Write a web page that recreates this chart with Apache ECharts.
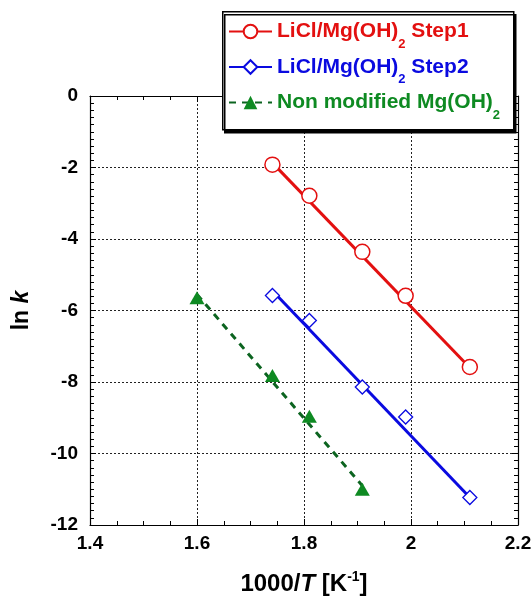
<!DOCTYPE html>
<html><head><meta charset="utf-8">
<script src="https://cdn.jsdelivr.net/npm/echarts@6/dist/echarts.min.js"></script>
<style>html,body{margin:0;padding:0;background:#fff}#c{width:531px;height:597px}</style>
</head><body><div id="c"></div>
<script>
// ---- data ----
const step1X = [1.741, 1.81, 1.909, 1.99, 2.11];
const step1Y = [-1.92, -2.79, -4.36, -5.59, -7.58];
const step2X = [1.741, 1.81, 1.909, 1.99, 2.11];
const step2Y = [-5.58, -6.28, -8.14, -8.98, -11.23];
const nonX = [1.60, 1.741, 1.81, 1.909];
const nonY = [-5.64, -7.82, -8.96, -11.0];
// fitted straight lines (end points)
const fit1X = [1.741, 2.11];
const fit1Y = [-1.87, -7.60];
const fit2X = [1.741, 2.11];
const fit2Y = [-5.45, -11.23];
const fit3X = [1.60, 1.909];
const fit3Y = [-5.55, -10.9];
const seriesNames = ['LiCl/Mg(OH)2 Step1', 'LiCl/Mg(OH)2 Step2', 'Non modified Mg(OH)2'];
const xTicks = [1.4, 1.6, 1.8, 2.0, 2.2];
const yTicks = [-12, -10, -8, -6, -4, -2, 0];

const RED = '#e31010', BLUE = '#0a0ae0', GREEN = '#0e8a22', DGREEN = '#0c6420';
const FONT = 'Liberation Sans, Arial, sans-serif';
const zip = (xs, ys) => xs.map((x, i) => [x, ys[i]]);

const chart = echarts.init(document.getElementById('c'), null, {renderer: 'canvas'});

const gridLine = {show: true, lineStyle: {color: '#222', width: 1, type: [2, 2]}};
function mkX(pos, labels) {
  return {
    type: 'value', position: pos, min: xTicks[0], max: xTicks[xTicks.length - 1], interval: 0.2,
    axisLine: {show: true, onZero: false, lineStyle: {color: '#000', width: 1.2}},
    axisTick: {show: true, inside: true, length: 6, lineStyle: {color: '#000'}},
    minorTick: {show: true, splitNumber: 4, length: 4, lineStyle: {color: '#000'}},
    axisLabel: {show: labels, color: '#000', fontSize: 19, fontWeight: 'bold', fontFamily: FONT, margin: 9,
      formatter: v => String(+v.toFixed(1))},
    splitLine: labels ? gridLine : {show: false},
    name: labels ? '{m|1000/}{i|T}{m| [K}{s|-1}{m|]}' : '',
    nameLocation: 'middle', nameGap: 45,
    nameTextStyle: {color: '#000', rich: {
      m: {fontSize: 24, fontWeight: 'bold', fontFamily: FONT, lineHeight: 28, color: '#000'},
      i: {fontSize: 24, fontWeight: 'bold', fontStyle: 'italic', fontFamily: FONT, lineHeight: 28, color: '#000'},
      s: {fontSize: 14, fontWeight: 'bold', fontFamily: FONT, verticalAlign: 'top', lineHeight: 15, color: '#000'}
    }}
  };
}
function mkY(pos, labels) {
  return {
    type: 'value', position: pos, min: yTicks[0], max: yTicks[yTicks.length - 1], interval: 2,
    axisLine: {show: true, onZero: false, lineStyle: {color: '#000', width: 1.2}},
    axisTick: {show: true, inside: true, length: 6, lineStyle: {color: '#000'}},
    minorTick: {show: true, splitNumber: 10, length: 4, lineStyle: {color: '#000'}},
    axisLabel: {show: labels, color: '#000', fontSize: 19, fontWeight: 'bold', fontFamily: FONT, margin: 12},
    splitLine: labels ? gridLine : {show: false},
    name: labels ? '{m|ln }{i|k}' : '',
    nameLocation: 'middle', nameGap: 57, nameRotate: 90,
    nameTextStyle: {color: '#000', rich: {
      m: {fontSize: 23, fontWeight: 'bold', fontFamily: FONT, color: '#000'},
      i: {fontSize: 23, fontWeight: 'bold', fontStyle: 'italic', fontFamily: FONT, color: '#000'}
    }}
  };
}

function legendFmt(n) {
  const i = n.indexOf('(OH)2');
  const a = n.slice(0, i + 4), b = n.slice(i + 5);
  return '{m|' + a + '}{s|2}' + (b ? '{m|' + b + '}' : '');
}

chart.setOption({
  animation: false,
  backgroundColor: '#fff',
  grid: {left: 90, right: 13, top: 96, bottom: 72, containLabel: false, outerBoundsMode: 'none'},
  xAxis: [mkX('bottom', true), mkX('top', false)],
  yAxis: [mkY('left', true), mkY('right', false)],
  graphic: [{
    type: 'rect', z: 3, left: 222, top: 11,
    shape: {width: 291, height: 118},
    style: {fill: '#fff', stroke: '#000', lineWidth: 1.5, shadowColor: '#000', shadowOffsetX: 2, shadowOffsetY: 3, shadowBlur: 0}
  }],
  legend: {
    z: 5, orient: 'vertical', left: 228, top: 21, padding: 0,
    itemWidth: 43, itemHeight: 17, itemGap: 6, selectedMode: false,
    lineStyle: {width: 2},
    formatter: legendFmt,
    textStyle: {rich: {
      m: {fontSize: 21, fontWeight: 'bold', fontFamily: FONT, lineHeight: 38},
      s: {fontSize: 13, fontWeight: 'bold', fontFamily: FONT, verticalAlign: 'bottom', lineHeight: 16}
    }},
    data: [
      {name: seriesNames[0], textStyle: {color: RED}},
      {name: seriesNames[1], textStyle: {color: BLUE}},
      {name: seriesNames[2], textStyle: {color: GREEN}}
    ]
  },
  series: [
    {name: seriesNames[0], type: 'line', data: zip(fit1X, fit1Y), symbol: 'circle', showSymbol: false, silent: true, z: 2,
      lineStyle: {color: RED, width: 3}, itemStyle: {color: '#fff', borderColor: RED, borderWidth: 1.5}},
    {name: seriesNames[1], type: 'line', data: zip(fit2X, fit2Y), symbol: 'diamond', showSymbol: false, silent: true, z: 2,
      lineStyle: {color: BLUE, width: 3}, itemStyle: {color: '#fff', borderColor: BLUE, borderWidth: 1.3}},
    {name: seriesNames[2], type: 'line', data: zip(fit3X, fit3Y), symbol: 'triangle', showSymbol: false, silent: true, z: 2,
      lineStyle: {color: DGREEN, width: 3, type: [7, 6]}, itemStyle: {color: GREEN}},
    {name: 'pts1', type: 'scatter', data: zip(step1X, step1Y), symbol: 'circle', symbolSize: 15, z: 3,
      itemStyle: {color: '#fff', borderColor: RED, borderWidth: 1.5, opacity: 1}},
    {name: 'pts2', type: 'scatter', data: zip(step2X, step2Y), symbol: 'diamond', symbolSize: 14, z: 3,
      itemStyle: {color: '#fff', borderColor: BLUE, borderWidth: 1.3, opacity: 1}},
    {name: 'pts3', type: 'scatter', data: zip(nonX, nonY), symbol: 'triangle', symbolSize: [15, 13], z: 3,
      itemStyle: {color: GREEN, opacity: 1}}
  ]
});
</script></body></html>
